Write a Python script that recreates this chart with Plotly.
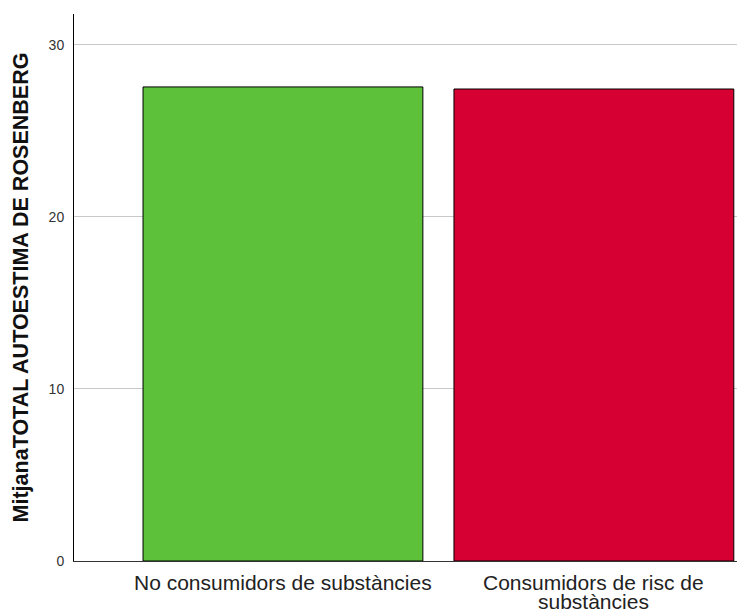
import plotly.graph_objects as go

# mean Rosenberg self-esteem score per group
categories = ["No consumidors de substàncies", "Consumidors de risc de substàncies"]
label_lines = [["No consumidors de substàncies"], ["Consumidors de risc de", "substàncies"]]
means = [27.56, 27.44]
bar_colors = ["#5dc13a", "#d70032"]
y_ticks = [0, 10, 20, 30]

fig = go.Figure()
fig.add_trace(go.Bar(
    x=categories,
    y=means,
    marker=dict(color=bar_colors, line=dict(color="#000000", width=1)),
    width=0.9,
    hoverinfo="x+y",
))

# category labels drawn as annotations so the wrapped line sits tight like SPSS
for cat, lines in zip(categories, label_lines):
    for i, line in enumerate(lines):
        fig.add_annotation(
            x=cat, y=0, xref="x", yref="paper",
            text=line, showarrow=False,
            yanchor="middle", yshift=-21 - 19 * i,
            font=dict(size=21, color="#222222"),
        )

# the page body adds an 8px offset, margins compensate for it
fig.update_layout(
    width=745,
    height=612,
    margin=dict(l=66, r=8, t=6, b=59),
    paper_bgcolor="white",
    plot_bgcolor="white",
    showlegend=False,
    font=dict(family="Liberation Sans, Arial, sans-serif", color="#222222"),
)
fig.update_xaxes(
    range=[-0.672, 1.486],
    showline=True,
    linecolor="#333333",
    linewidth=1,
    ticks="",
    showticklabels=False,
    automargin=False,
)
fig.update_yaxes(
    range=[0, 31.8],
    tickvals=y_ticks,
    showgrid=True,
    gridcolor="#c8c8c8",
    gridwidth=1,
    zeroline=False,
    showline=True,
    linecolor="#000000",
    linewidth=1,
    ticks="",
    tickfont=dict(size=14, color="#333333"),
    ticklabelstandoff=6,
    automargin=False,
    title=dict(text="<b>MitjanaTOTAL AUTOESTIMA DE ROSENBERG</b>",
               font=dict(size=21.5, color="#111111"), standoff=14),
)

fig.write_html("out.html")
